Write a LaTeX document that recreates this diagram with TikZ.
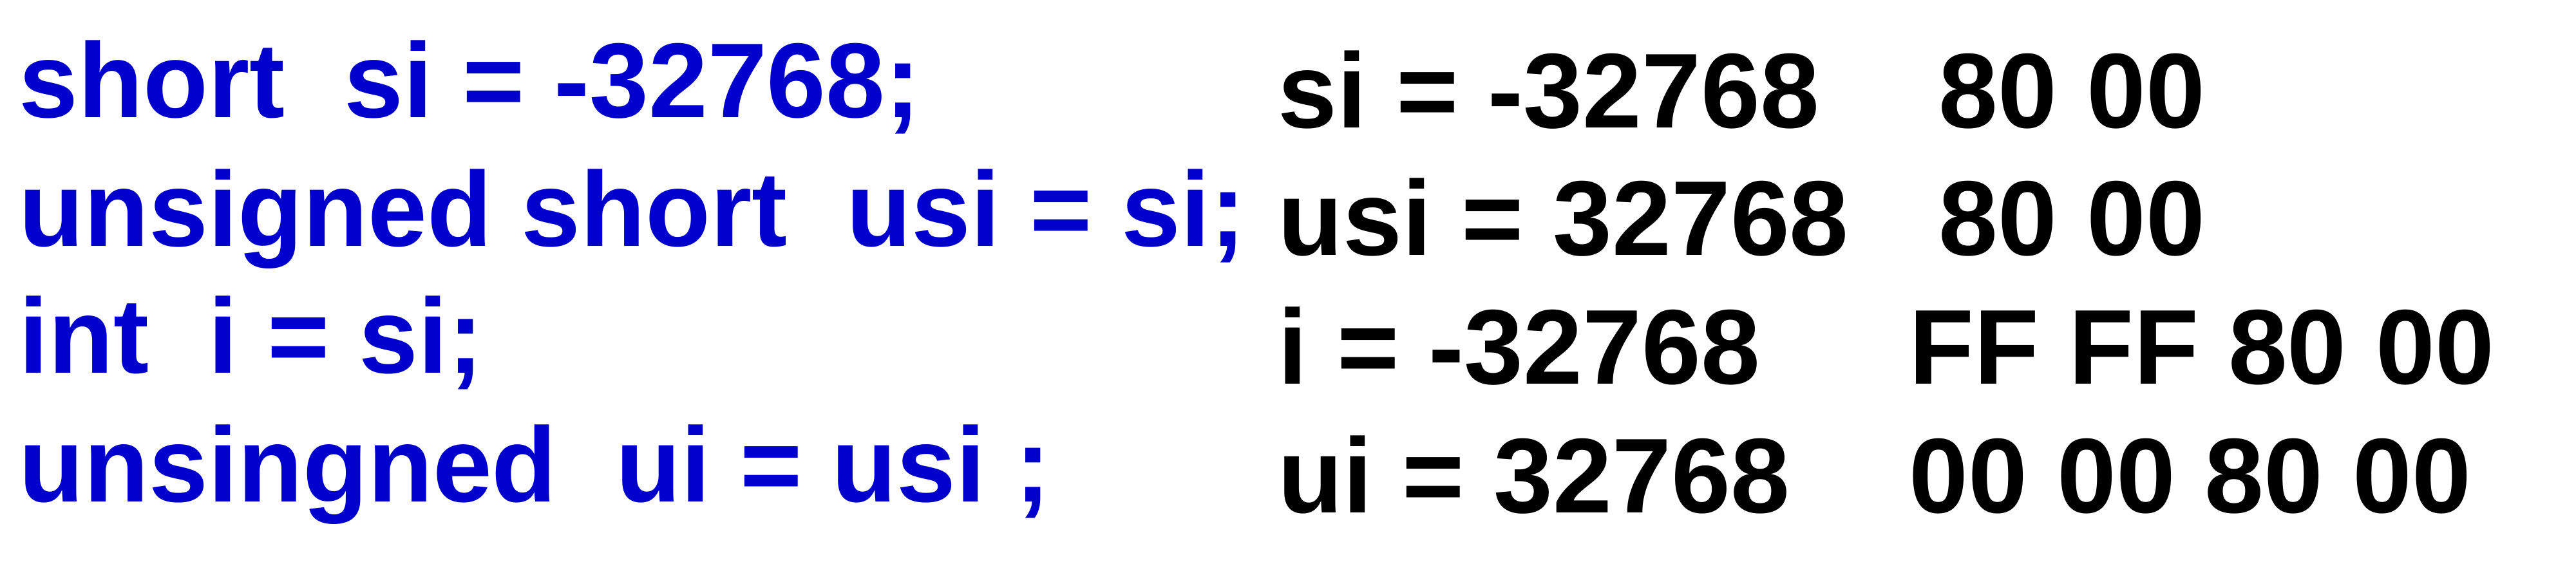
\documentclass[tikz,border=0pt]{standalone}
\usepackage{fontspec}
\setsansfont{Liberation Sans}
\usepackage{tikz}
\usetikzlibrary{positioning}
\definecolor{codeblue}{RGB}{0,0,204}

\tikzset{
  decl/.style={anchor=base west, inner sep=0pt, text=codeblue, font=\sffamily\bfseries\fontsize{47}{56}\selectfont},
  value/.style={anchor=base west, inner sep=0pt, text=black, font=\sffamily\bfseries\fontsize{47}{56}\selectfont}
}

\begin{document}
\begin{tikzpicture}[scale=1]
                \useasboundingbox (0,0) rectangle (40,8.86);

                % declarations
                \node[decl] (decl1) at (0.29,7.03) {short\ \ si = -32768;};
                \node[decl] (decl2) at (0.29,5.03) {unsigned short\ \ usi = si;};
                \node[decl] (decl3) at (0.29,3.06) {int\ \ i = si;};
                \node[decl] (decl4) at (0.29,1.06) {unsingned\ \ ui = usi ;};

                % values and bytes
                \node[value] (val1) at (19.84,6.87) {si = -32768};
                \node[value] (val2) at (19.84,4.89) {usi = 32768};
                \node[value] (val3) at (19.84,2.89) {i = -32768};
                \node[value] (val4) at (19.84,0.89) {ui = 32768};

                \node[value] (hex1) at (30.10,6.87) {80 00};
                \node[value] (hex2) at (30.10,4.89) {80 00};
                \node[value] (hex3) at (29.64,2.89) {FF FF 80 00};
                \node[value] (hex4) at (29.64,0.89) {00 00 80 00};
                \end{tikzpicture}
\end{document}
